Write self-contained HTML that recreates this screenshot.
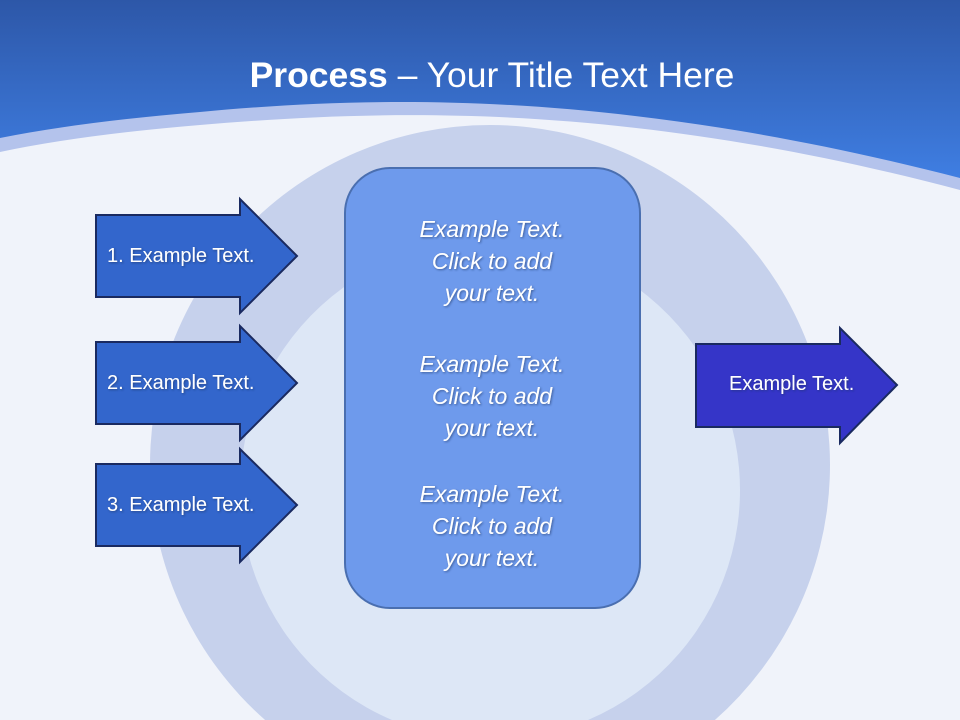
<!DOCTYPE html>
<html><head><style>html,body{margin:0;overflow:hidden;width:960px;height:720px}svg{display:block}</style></head><body>
<svg width="960" height="720" viewBox="0 0 960 720" xmlns="http://www.w3.org/2000/svg" font-family="Liberation Sans, sans-serif">
<defs>
<linearGradient id="hd" x1="0" y1="0" x2="0" y2="1"><stop offset="0" stop-color="#2d57a8"/><stop offset="1" stop-color="#3f7ee2"/></linearGradient>
<filter id="sh"><feDropShadow dx="1" dy="1" stdDeviation="1" flood-color="#203060" flood-opacity="0.6"/></filter>
</defs>
<rect width="960" height="720" fill="#f0f3fa"/>
<path d="M265.1 720A340 340 0 1 1 714.9 720Z" fill="#c6d1ec"/>
<path d="M392 720A250 250 0 1 1 588 720Z" fill="#dde7f6"/>
<path d="M0 0H960V190C620 100 380 110 200 125Q80 135 0 152Z" fill="#b4c3ec"/>
<path d="M0 0H960V178C620 90 380 95 200 112Q80 122 0 138Z" fill="url(#hd)"/>
<text x="492" y="87" text-anchor="middle" fill="#fff" font-size="35.5"><tspan font-weight="bold">Process</tspan> – Your Title Text Here</text>
<g stroke="#1a2a60" stroke-width="2" fill="#3366cc">
<path d="M96 215H240V199L297 256L240 313V297H96Z"/>
<path d="M96 342H240V326L297 383L240 440V424H96Z"/>
<path d="M96 464H240V449L297 505L240 562V546H96Z"/>
<path d="M696 344H840V328L897 385L840 443V427H696Z" fill="#3535c8"/>
</g>
<g fill="#fff" font-size="20" filter="url(#sh)">
<text x="107" y="262">1. Example Text.</text>
<text x="107" y="389">2. Example Text.</text>
<text x="107" y="511">3. Example Text.</text>
<text x="729" y="390">Example Text.</text>
</g>
<rect x="345" y="168" width="295" height="440" rx="45" fill="#6e9aec" stroke="#4a6fb0" stroke-width="2"/>
<g fill="#fff" font-size="23" font-style="italic" text-anchor="middle" filter="url(#sh)">
<text x="492" y="237">Example Text.</text><text x="492" y="269">Click  to add</text><text x="492" y="301">your text.</text>
<text x="492" y="372">Example Text.</text><text x="492" y="404">Click  to add</text><text x="492" y="436">your text.</text>
<text x="492" y="502">Example Text.</text><text x="492" y="534">Click  to add</text><text x="492" y="566">your text.</text>
</g>
</svg>
</body></html>
